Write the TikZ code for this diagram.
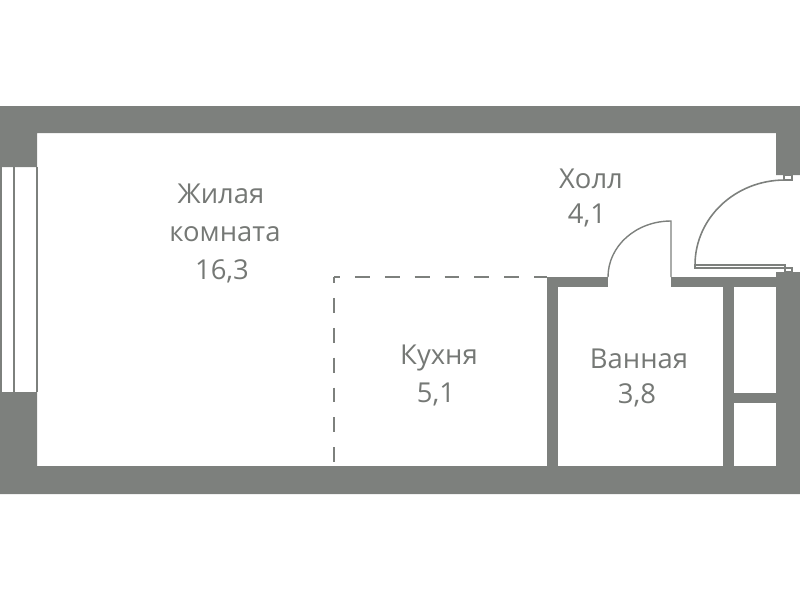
\documentclass[tikz,border=0pt]{standalone}
\usepackage{fontspec}
\setmainfont{Open Sans}
\definecolor{wallgray}{rgb}{0.49,0.50,0.49}
\definecolor{textgray}{rgb}{0.46,0.47,0.46}
\tikzset{
  wall/.style={fill=wallgray,draw=none},
  thinline/.style={line width=0.8pt,color=wallgray},
  dashline/.style={line width=0.6pt,color=wallgray,dash pattern=on 8.5pt off 8.5pt,dash phase=5.1pt},
  roomlabel/.style={font=\fontsize{15.6}{17}\selectfont,color=textgray,inner sep=0pt}
}
\begin{document}
\begin{tikzpicture}[line cap=butt,line join=miter,x=0.02cm,y=-0.02cm]
            \useasboundingbox (0,0) rectangle (800,600);
            % outer walls
            \fill[wall] (0,106) -- (800,106) -- (800,175) -- (776,175) -- (776,133) -- (37,133) -- (37,167) -- (0,167) -- cycle;
            \fill[wall] (0,392) -- (37,392) -- (37,466) -- (776,466) -- (776,272) -- (800,272) -- (800,494) -- (0,494) -- cycle;
            % inner walls
            \fill[wall] (547,277) rectangle (608,287);
            \fill[wall] (671,277) rectangle (776,287);
            \fill[wall] (547,277) rectangle (558,466);
            \fill[wall] (723,287) rectangle (734,466);
            \fill[wall] (734,393) rectangle (776,403);
            % window
            \draw[thinline] (1,167) -- (1,392);
            \draw[thinline] (14,167) -- (14,392);
            \draw[thinline] (37,167) -- (37,392);
            % kitchen border
            \draw[dashline] (334,277) -- (334,466);
            \draw[dashline] (334,277) -- (547,277);
            % bathroom door
            \draw[thinline] (608,277) .. controls (608,246) and (636,221) .. (671,221) -- (671,277);
            % entrance door
            \draw[thinline,line width=0.9pt] (695,265) .. controls (695,218) and (735,180) .. (785,180);
            \draw[thinline] (695,265) rectangle (785,268);
            \draw[thinline] (784,175) rectangle (792,180);
            \draw[thinline] (785,268) rectangle (792,272);
            % labels
            \node[roomlabel] (living1) at (221,194) {Жилая};
            \node[roomlabel] (living2) at (225,234) {комната};
            \node[roomlabel] (living3) at (222,271) {16,3};
            \node[roomlabel] (hall1) at (591,179) {Холл};
            \node[roomlabel] (hall2) at (587,215) {4,1};
            \node[roomlabel] (kitchen1) at (439,358) {Кухня};
            \node[roomlabel] (kitchen2) at (436,394) {5,1};
            \node[roomlabel] (bath1) at (639,359) {Ванная};
            \node[roomlabel] (bath2) at (637,395) {3,8};
\end{tikzpicture}
\end{document}
